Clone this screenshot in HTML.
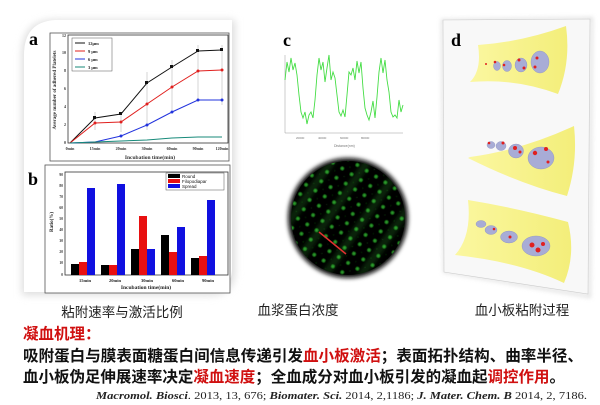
<!DOCTYPE html>
<html><head><meta charset="utf-8"><style>
html,body{margin:0;padding:0;background:#fff;width:600px;height:405px;overflow:hidden}
svg{display:block}
.cj{font-family:"Liberation Sans","Noto Sans CJK SC",sans-serif}
.sf{font-family:"Liberation Serif",serif}
</style></head><body>
<svg width="600" height="405" viewBox="0 0 600 405" xmlns="http://www.w3.org/2000/svg">
<defs>
<filter id="sh" x="-10%" y="-10%" width="120%" height="120%"><feGaussianBlur stdDeviation="4"/></filter>
<filter id="bl" x="-10%" y="-10%" width="120%" height="120%"><feGaussianBlur stdDeviation="2"/></filter>
<filter id="bl1" x="-10%" y="-10%" width="120%" height="120%"><feGaussianBlur stdDeviation="0.6"/></filter>
<pattern id="dots" width="11" height="11" patternUnits="userSpaceOnUse" patternTransform="rotate(32)">
<rect width="11" height="11" fill="#000"/>
<circle cx="5.5" cy="5.5" r="1.6" fill="#2a9a2a"/>
<circle cx="0" cy="0" r="0.8" fill="#1a5a1a"/>
</pattern>
<pattern id="stripes" width="30" height="200" patternUnits="userSpaceOnUse" patternTransform="rotate(35)">
<rect width="8" height="200" fill="#3ad03a" opacity="0.18"/>
</pattern>
<clipPath id="cc"><circle cx="348" cy="218" r="57"/></clipPath>
<linearGradient id="yl" x1="0" x2="1"><stop offset="0" stop-color="#fbf7a0"/><stop offset="1" stop-color="#f3ee7a"/></linearGradient>
</defs>
<!-- left card -->
<path d="M55 20 H235 V270 Q235 295 210 295 H22 V55 Q22 20 55 20Z" fill="#ddd" filter="url(#sh)"/>
<path d="M55 20 H232 V268 Q232 292 208 292 H24 V55 Q24 22 55 20Z" fill="#fff"/>
<!-- chart a -->
<rect x="50" y="33" width="179" height="128" fill="#fff" stroke="#555" stroke-width="0.8"/>
<rect x="68" y="35" width="160" height="108" fill="none" stroke="#333" stroke-width="0.8"/>
<g font-family="Liberation Serif,serif" font-size="4" fill="#333" font-weight="bold">
<text x="66" y="144" text-anchor="end">0</text><text x="66" y="126" text-anchor="end">2</text><text x="66" y="108" text-anchor="end">4</text><text x="66" y="90" text-anchor="end">6</text><text x="66" y="72" text-anchor="end">8</text><text x="66" y="54" text-anchor="end">10</text><text x="66" y="37" text-anchor="end">12</text>
<text x="70" y="150" text-anchor="middle">0min</text><text x="95" y="150" text-anchor="middle">15min</text><text x="121" y="150" text-anchor="middle">20min</text><text x="147" y="150" text-anchor="middle">30min</text><text x="172" y="150" text-anchor="middle">60min</text><text x="198" y="150" text-anchor="middle">90min</text><text x="222" y="150" text-anchor="middle">120min</text>
<text x="150" y="159" text-anchor="middle" font-size="5.5">Incubation time(min)</text>
<text x="56" y="90" text-anchor="middle" font-size="5" transform="rotate(-90 56 90)">Average number of adhered Platelets</text>
</g>
<g stroke="#bbb" stroke-width="0.6">
<line x1="95" y1="112" x2="95" y2="130"/><line x1="121" y1="112" x2="121" y2="132"/><line x1="147" y1="72" x2="147" y2="130"/><line x1="172" y1="60" x2="172" y2="110"/><line x1="198" y1="45" x2="198" y2="100"/><line x1="222" y1="45" x2="222" y2="105"/>
</g>
<g fill="none" stroke-width="1">
<polyline stroke="#111" points="70,143 95,118 121,114 147,83 172,67 198,51 222,50"/>
<polyline stroke="#e0201e" points="70,143 95,123 121,122 147,104 172,87 198,71 222,70"/>
<polyline stroke="#2233dd" points="70,143 95,142 121,136 147,125 172,112 198,100 222,100"/>
<polyline stroke="#178a7a" points="70,143 95,142 121,141 147,140 172,138 198,137 222,137"/>
</g>
<g fill="#111"><rect x="93" y="116" width="3" height="3"/><rect x="119" y="112" width="3" height="3"/><rect x="145" y="81" width="3" height="3"/><rect x="170" y="65" width="3" height="3"/><rect x="196" y="49" width="3" height="3"/><rect x="220" y="48" width="3" height="3"/></g>
<g fill="#e0201e"><circle cx="95" cy="123" r="1.5"/><circle cx="121" cy="122" r="1.5"/><circle cx="147" cy="104" r="1.5"/><circle cx="172" cy="87" r="1.5"/><circle cx="198" cy="71" r="1.5"/><circle cx="222" cy="70" r="1.5"/></g>
<g fill="#2233dd"><circle cx="121" cy="136" r="1.5"/><circle cx="147" cy="125" r="1.5"/><circle cx="172" cy="112" r="1.5"/><circle cx="198" cy="100" r="1.5"/><circle cx="222" cy="100" r="1.5"/></g>
<rect x="72" y="38" width="40" height="33" fill="#fff" stroke="#555" stroke-width="0.5"/>
<g font-family="Liberation Serif,serif" font-size="4.5" font-weight="bold" fill="#222">
<line x1="75" y1="43" x2="85" y2="43" stroke="#111"/><text x="88" y="45">12μm</text>
<line x1="75" y1="51" x2="85" y2="51" stroke="#e0201e"/><text x="88" y="53">9 μm</text>
<line x1="75" y1="59" x2="85" y2="59" stroke="#2233dd"/><text x="88" y="61">6 μm</text>
<line x1="75" y1="67" x2="85" y2="67" stroke="#178a7a"/><text x="88" y="69">3 μm</text>
</g>
<text x="29" y="45" class="sf" font-size="18" font-weight="bold">a</text>
<!-- chart b -->
<rect x="45" y="165" width="185" height="128" fill="#fff" stroke="#555" stroke-width="0.8"/>
<rect x="65" y="172" width="163" height="103" fill="none" stroke="#333" stroke-width="0.8"/>
<text x="28" y="185" class="sf" font-size="18" font-weight="bold">b</text>
<g font-family="Liberation Serif,serif" font-size="3.6" fill="#333" font-weight="bold" text-anchor="end">
<text x="63" y="276">0</text><text x="63" y="264">10</text><text x="63" y="253">20</text><text x="63" y="242">30</text><text x="63" y="231">40</text><text x="63" y="220">50</text><text x="63" y="209">60</text><text x="63" y="198">70</text><text x="63" y="187">80</text><text x="63" y="176">90</text>
</g>
<g font-family="Liberation Serif,serif" font-size="4.5" fill="#222" font-weight="bold" text-anchor="middle">
<text x="85" y="282">15min</text><text x="115" y="282">20min</text><text x="147" y="282">30min</text><text x="178" y="282">60min</text><text x="208" y="282">90min</text>
<text x="146" y="289" font-size="5.5">Incubation time(min)</text>
<text x="53" y="222" font-size="5" transform="rotate(-90 53 222)">Ratio(%)</text>
</g>
<g>
<rect x="71" y="264" width="8" height="11" fill="#000"/><rect x="79" y="262" width="8" height="13" fill="#e81010"/><rect x="87" y="188" width="8" height="87" fill="#1010e0"/>
<rect x="101" y="265" width="8" height="10" fill="#000"/><rect x="109" y="265" width="8" height="10" fill="#e81010"/><rect x="117" y="184" width="8" height="91" fill="#1010e0"/>
<rect x="131" y="249" width="8" height="26" fill="#000"/><rect x="139" y="216" width="8" height="59" fill="#e81010"/><rect x="147" y="249" width="8" height="26" fill="#1010e0"/>
<rect x="161" y="235" width="8" height="40" fill="#000"/><rect x="169" y="252" width="8" height="23" fill="#e81010"/><rect x="177" y="227" width="8" height="48" fill="#1010e0"/>
<rect x="191" y="258" width="8" height="17" fill="#000"/><rect x="199" y="256" width="8" height="19" fill="#e81010"/><rect x="207" y="200" width="8" height="75" fill="#1010e0"/>
</g>
<rect x="166" y="173" width="58" height="17" fill="#fff" stroke="#555" stroke-width="0.5"/>
<g font-family="Liberation Sans,sans-serif" font-size="4.5" fill="#111">
<rect x="168" y="174" width="12" height="4" fill="#000"/><text x="182" y="178">Round</text>
<rect x="168" y="179" width="12" height="4" fill="#e81010"/><text x="182" y="183">Filopodiapar</text>
<rect x="168" y="184" width="12" height="4" fill="#1010e0"/><text x="182" y="188">Spread</text>
</g>
<!-- panel c -->
<text x="283" y="46" class="sf" font-size="18" font-weight="bold">c</text>
<line x1="285" y1="55" x2="285" y2="133" stroke="#999" stroke-width="0.5"/>
<line x1="285" y1="133" x2="403" y2="133" stroke="#999" stroke-width="0.5"/>
<g font-family="Liberation Sans,sans-serif" font-size="3" fill="#777">
<text x="296" y="139">20000</text><text x="318" y="139">40000</text><text x="340" y="139">60000</text><text x="361" y="139">80000</text>
<text x="334" y="147" font-size="3.5">Distance(nm)</text>
</g>
<polyline fill="none" stroke="#44dd44" stroke-width="0.9" points="285,80 287,62 289,72 291,58 293,70 295,63 297,75 299,95 301,112 303,118 305,112 307,124 309,115 311,112 313,118 315,100 317,75 319,58 321,70 323,62 325,82 327,68 329,55 331,80 333,72 335,78 337,95 339,112 341,116 343,110 345,117 347,95 349,72 351,75 353,68 355,80 357,61 359,73 361,62 363,88 365,108 367,115 369,120 371,112 373,101 375,118 377,97 379,72 381,58 383,73 385,60 387,80 389,92 391,112 393,117 395,115 397,118 399,100 401,112 403,105"/>
<circle cx="348" cy="218" r="60" fill="#111" filter="url(#bl)"/>
<g clip-path="url(#cc)">
<rect x="288" y="158" width="120" height="120" fill="url(#dots)" filter="url(#bl1)"/>
<rect x="288" y="158" width="120" height="120" fill="url(#stripes)" filter="url(#bl)"/>
</g>
<line x1="319" y1="232" x2="346" y2="254" stroke="#e03030" stroke-width="1.5"/>
<!-- panel d -->
<path d="M442 20 L592 18 L590 297 L444 272Z" fill="#f6f6f6" stroke="#bbb" stroke-width="1" filter="url(#bl)"/>
<path d="M443 20 L590 19 L588 294 L444 272Z" fill="#f8f8f8" stroke="#ccc" stroke-width="0.6"/>
<text x="451" y="46" class="sf" font-size="18" font-weight="bold">d</text>
<path d="M478 45 Q522 42 566 26 Q571 62 558 94 Q515 78 470 82 Q482 70 478 45Z" fill="url(#yl)"/>
<path d="M470 157 Q522 150 574 126 Q578 162 567 196 Q520 184 468 158Z" fill="url(#yl)"/>
<path d="M468 200 Q517 208 568 222 Q576 255 564 283 Q520 262 455 255 Q472 236 468 200Z" fill="url(#yl)"/>
<g fill="#a8acd6" stroke="#8a8fc0" stroke-width="0.4">
<ellipse cx="497" cy="66" rx="3.5" ry="4.5"/><ellipse cx="507" cy="66" rx="4.5" ry="5.5"/><ellipse cx="521" cy="65" rx="6" ry="7"/><ellipse cx="540" cy="62" rx="9" ry="11"/>
<ellipse cx="491" cy="145" rx="4" ry="3.5"/><ellipse cx="501" cy="146" rx="5" ry="4.5"/><ellipse cx="516" cy="151" rx="7.5" ry="7"/><ellipse cx="541" cy="158" rx="13" ry="11"/>
<ellipse cx="481" cy="224" rx="5" ry="3.5"/><ellipse cx="491" cy="230" rx="6" ry="4.5"/><ellipse cx="509" cy="237" rx="8.5" ry="6"/><ellipse cx="536" cy="246" rx="14" ry="10"/>
</g>
<g fill="#e02020">
<circle cx="495" cy="62" r="1.3"/><circle cx="504" cy="65" r="1.3"/><circle cx="519" cy="60" r="1.5"/><circle cx="524" cy="68" r="1.5"/><circle cx="537" cy="58" r="1.5"/><circle cx="535" cy="67" r="1.5"/><circle cx="486" cy="64" r="1"/>
<circle cx="489" cy="143" r="1.3"/><circle cx="503" cy="143" r="1.5"/><circle cx="515" cy="148" r="2"/><circle cx="520" cy="152" r="1.5"/><circle cx="535" cy="153" r="2.2"/><circle cx="546" cy="149" r="2"/><circle cx="548" cy="162" r="1.5"/>
<circle cx="494" cy="229" r="1.3"/><circle cx="510" cy="237" r="1.5"/><circle cx="532" cy="245" r="2.5"/><circle cx="538" cy="250" r="2.5"/><circle cx="543" cy="244" r="2"/>
</g>
<!-- captions -->
<g class="cj" font-size="13.5" fill="#222" text-anchor="middle">
<text x="122" y="317">粘附速率与激活比例</text>
<text x="298" y="315">血浆蛋白浓度</text>
<text x="522" y="315">血小板粘附过程</text>
</g>
<text x="23" y="339" class="cj" font-size="15.5" font-weight="bold" fill="#d01010">凝血机理：</text>
<text x="23" y="361" class="cj" font-size="15.5" font-weight="bold" fill="#111" textLength="560" lengthAdjust="spacingAndGlyphs">吸附蛋白与膜表面糖蛋白间信息传递引发<tspan fill="#d01010">血小板激活</tspan>；表面拓扑结构、曲率半径、</text>
<text x="23" y="382" class="cj" font-size="15.5" font-weight="bold" fill="#111" textLength="542" lengthAdjust="spacingAndGlyphs">血小板伪足伸展速率决定<tspan fill="#d01010">凝血速度</tspan>；全血成分对血小板引发的凝血起<tspan fill="#d01010">调控作用</tspan>。</text>
<text x="96" y="399" class="sf" font-size="10" fill="#222" textLength="491" lengthAdjust="spacingAndGlyphs"><tspan font-style="italic" font-weight="bold">Macromol. Biosci</tspan>. 2013, 13, 676; <tspan font-style="italic" font-weight="bold">Biomater. Sci.</tspan> 2014, 2,1186; <tspan font-style="italic" font-weight="bold">J. Mater. Chem. B</tspan> 2014, 2, 7186.</text>
</svg>
</body></html>
